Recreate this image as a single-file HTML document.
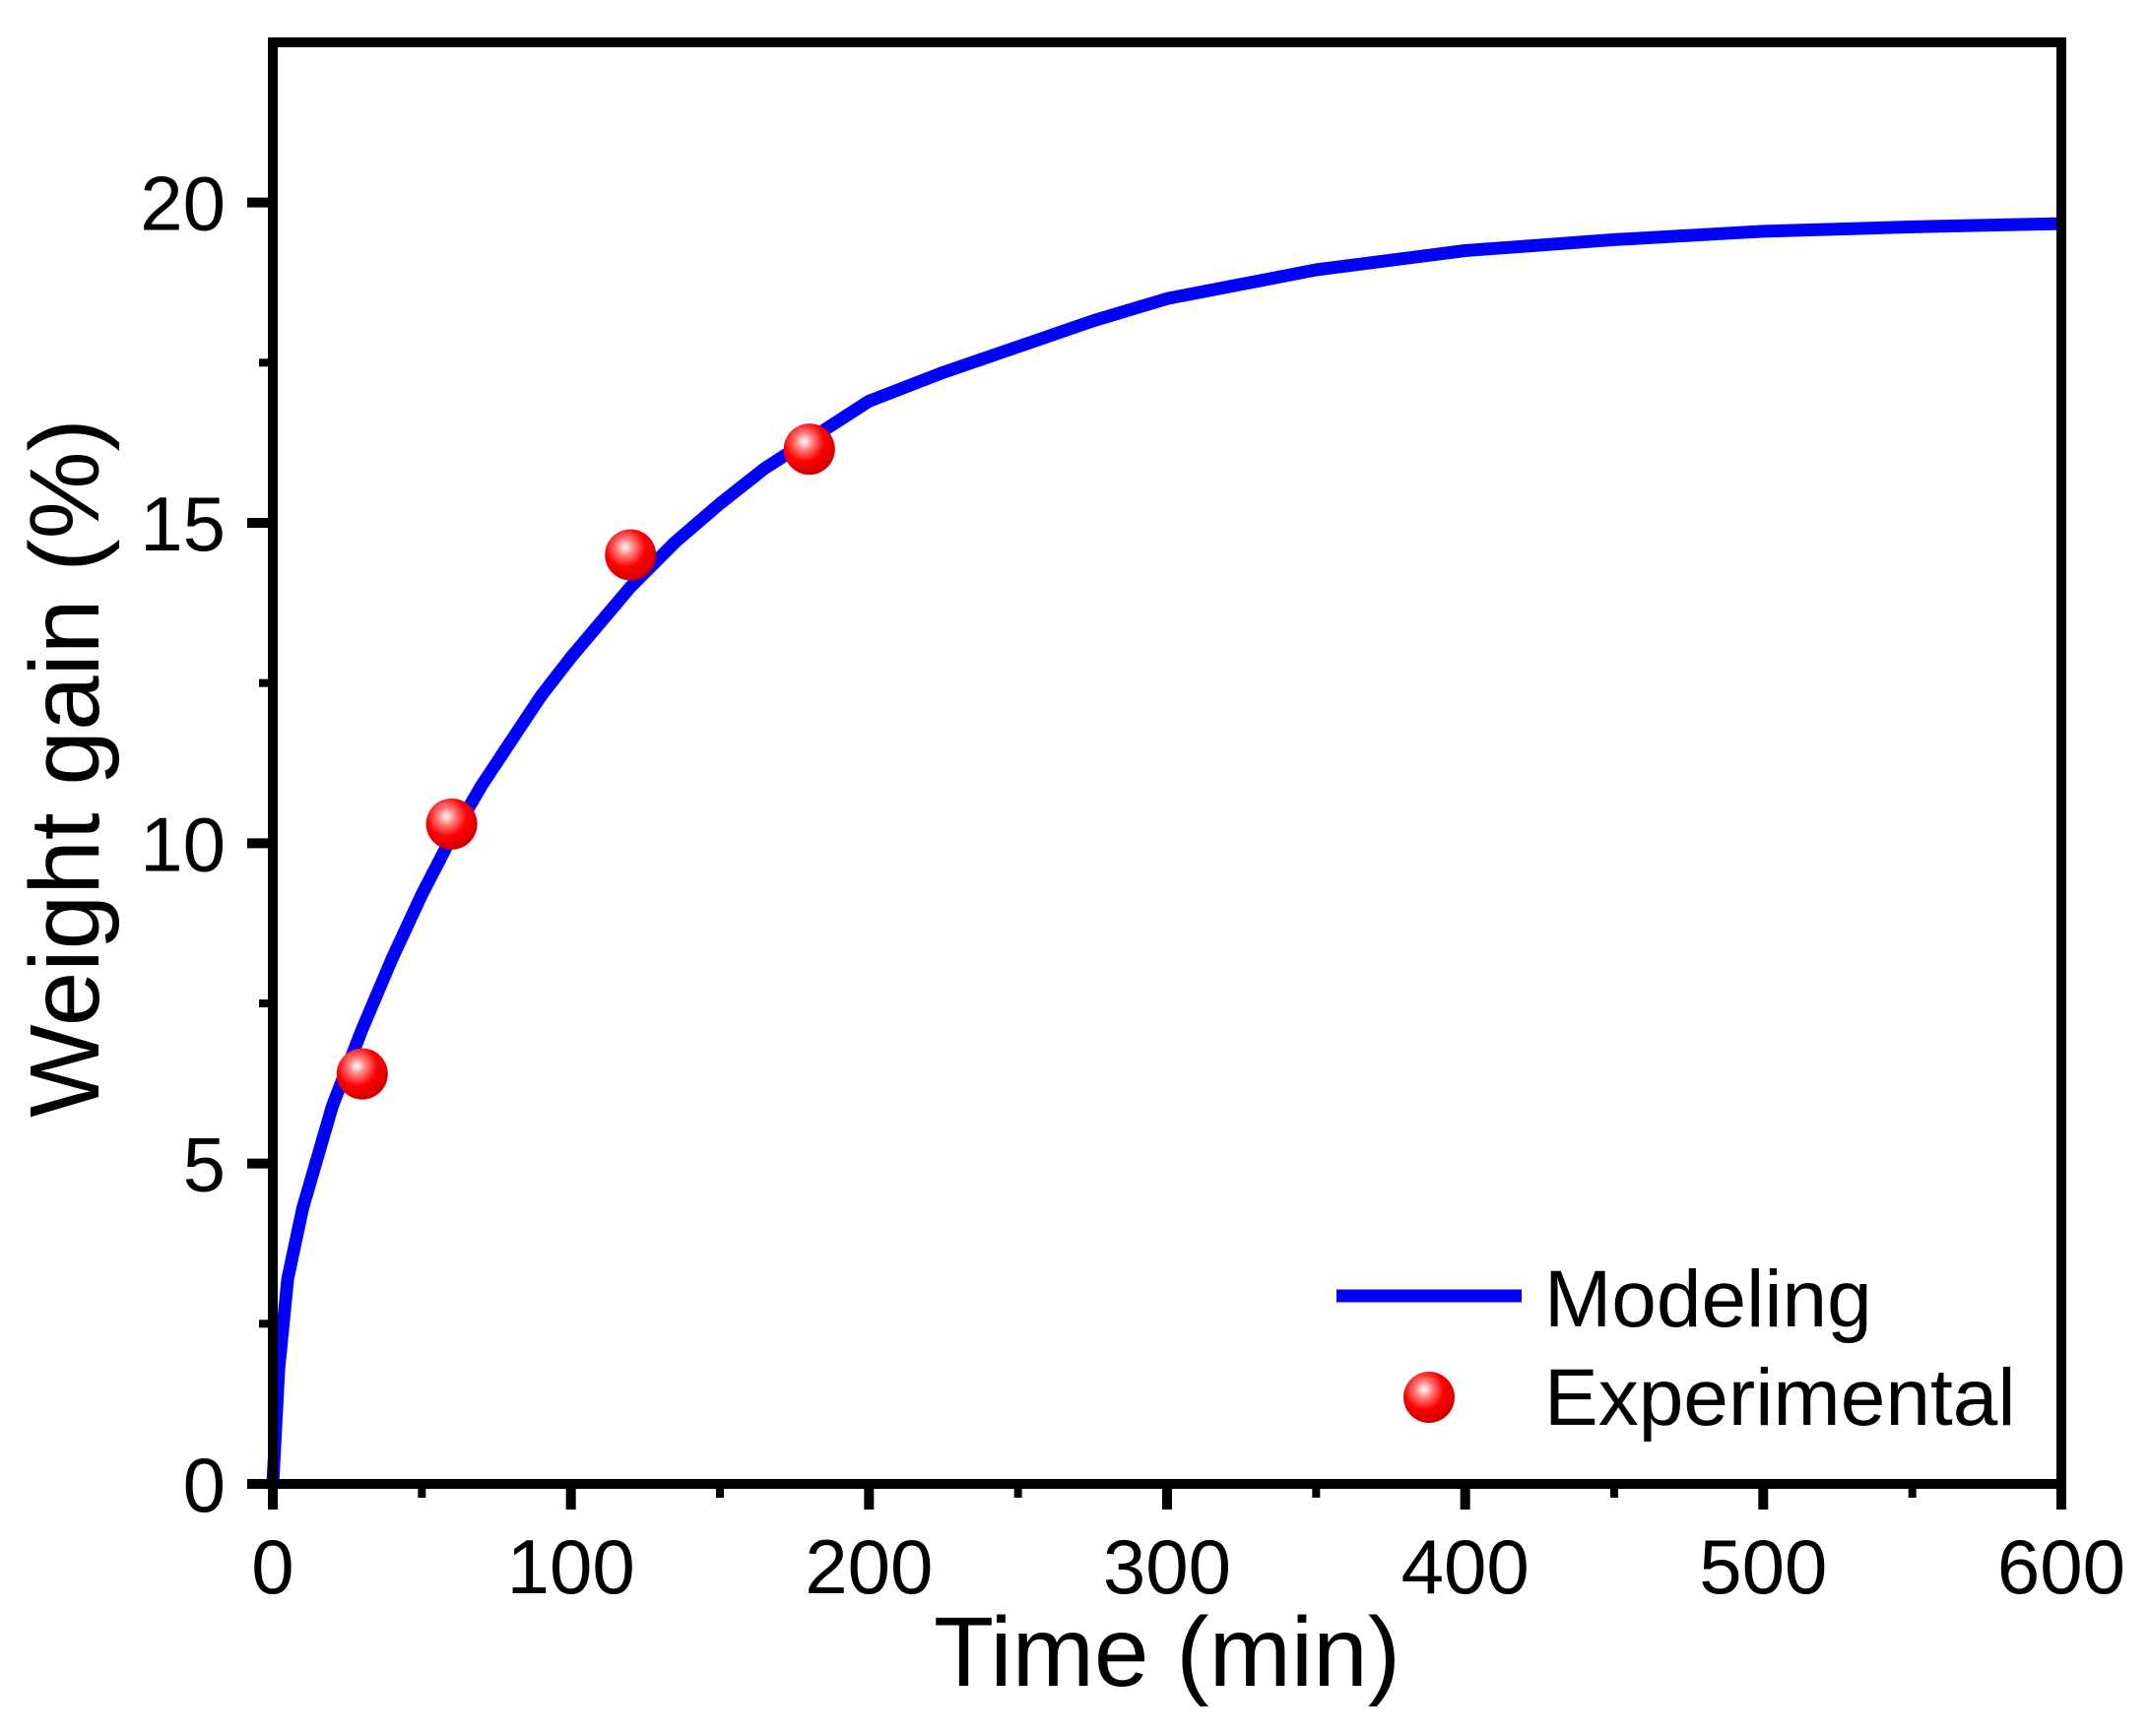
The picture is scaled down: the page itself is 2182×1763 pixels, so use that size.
<!DOCTYPE html>
<html><head><meta charset="utf-8"><style>
html,body{margin:0;padding:0;background:#fff;}
svg{display:block;font-family:"Liberation Sans",Arial,sans-serif;}
</style></head><body>
<svg id="chart" width="2182" height="1763" viewBox="0 0 2182 1763" xmlns="http://www.w3.org/2000/svg">
<defs>
<radialGradient id="ball" cx="0.4" cy="0.35" r="0.65">
<stop offset="0" stop-color="#ffffff"/>
<stop offset="0.25" stop-color="#ff8080"/>
<stop offset="0.6" stop-color="#ff0000"/>
<stop offset="1" stop-color="#d00000"/>
</radialGradient>
</defs>
<g id="plot"></g>
</svg>
<script>
const modelT = [0,2,5,10,15,20,30,40,50,60,70,80,90,100,120,135,150,165,180,200,225,250,275,300,350,400,450,500,550,600];
const modelY = [0,1.8,3.2,4.3,5.1,5.9,7.1,8.2,9.2,10.1,10.9,11.6,12.3,12.9,14.0,14.7,15.3,15.85,16.3,16.9,17.35,17.75,18.15,18.5,18.95,19.25,19.42,19.55,19.62,19.67];
const expT = [30,60,120,180];
const expY = [6.4,10.3,14.5,16.15];
const xTicks = [0,100,200,300,400,500,600];
const xMinor = [50,150,250,350,450,550];
const yTicks = [0,5,10,15,20];
const yMinor = [2.5,7.5,12.5,17.5];

const L=277,R=2093,T=43,B=1507;
const xMax=600,yMax=22.5;
const sx=v=>L+(R-L)*v/xMax;
const sy=v=>B-(B-T)*v/yMax;
const NS="http://www.w3.org/2000/svg";
const g=document.getElementById('plot');
function mk(tag,attrs,parent){const e=document.createElementNS(NS,tag);for(const k in attrs)e.setAttribute(k,attrs[k]);(parent||g).appendChild(e);return e;}

let d=modelT.map((t,i)=>(i?'L':'M')+sx(t).toFixed(1)+' '+sy(modelY[i]).toFixed(1)).join(' ');
const line=mk('path',{d:d,fill:'none',stroke:'#0000ff','stroke-width':13,'stroke-linejoin':'round'});



const frame=mk('rect',{x:L,y:T,width:R-L,height:B-T,fill:'none',stroke:'#000','stroke-width':10});



expT.forEach((t,i)=>{
 const c=mk('circle',{cx:sx(t),cy:sy(expY[i]),r:26,fill:'url(#ball)'});
 
 
});

xTicks.forEach(v=>{
 const tk=mk('line',{x1:sx(v),x2:sx(v),y1:B,y2:B+26,stroke:'#000','stroke-width':10});
 
 
 const tx=mk('text',{x:sx(v),y:1618,'font-size':78,'text-anchor':'middle'});
 tx.textContent=v;
 
 
});
xMinor.forEach(v=>{
 const tk=mk('line',{x1:sx(v),x2:sx(v),y1:B,y2:B+14,stroke:'#000','stroke-width':8});
 
 
});
yTicks.forEach(v=>{
 const tk=mk('line',{x1:L-26,x2:L,y1:sy(v),y2:sy(v),stroke:'#000','stroke-width':10});
 
 
 const tx=mk('text',{x:229,y:sy(v)+28,'font-size':78,'text-anchor':'end'});
 tx.textContent=v;
 
 
});
yMinor.forEach(v=>{
 const tk=mk('line',{x1:L-14,x2:L,y1:sy(v),y2:sy(v),stroke:'#000','stroke-width':8});
 
 
});

const xt=mk('text',{x:1185,y:1712,'font-size':100,'text-anchor':'middle'});
xt.textContent='Time (min)';


const yt=mk('text',{x:0,y:0,'font-size':100,'text-anchor':'middle',transform:'translate(100,780) rotate(-90)'});
yt.textContent='Weight gain (%)';



const ll=mk('line',{x1:1357,x2:1545,y1:1316,y2:1316,stroke:'#0000ff','stroke-width':13});


const lt1=mk('text',{x:1568,y:1347,'font-size':82});
lt1.textContent='Modeling';


const lc=mk('circle',{cx:1451,cy:1419,r:26,fill:'url(#ball)'});


const lt2=mk('text',{x:1568,y:1447,'font-size':82});
lt2.textContent='Experimental';


</script>
</body></html>
